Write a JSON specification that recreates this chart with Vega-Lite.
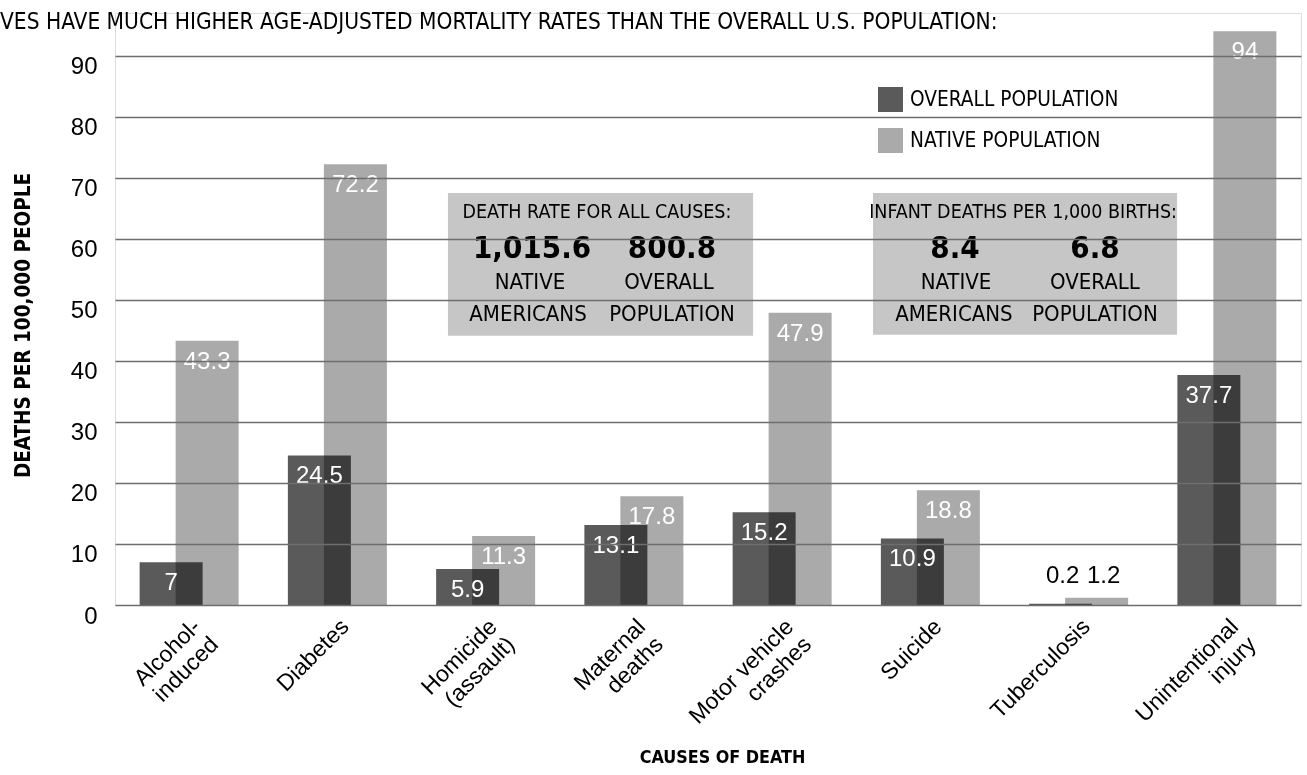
{
  "$schema": "https://vega.github.io/schema/vega-lite/v6.json",
  "width": 1186,
  "height": 592,
  "autosize": {"type": "none"},
  "padding": {"left": 115, "top": 13, "right": 6, "bottom": 170},
  "background": "white",
  "title": {
    "text": "VES HAVE MUCH HIGHER AGE-ADJUSTED MORTALITY RATES THAN THE OVERALL U.S. POPULATION:",
    "anchor": "start", "frame": "group", "orient": "top", "offset": 0,
    "dx": -115, "dy": 38, "baseline": "alphabetic",
    "font": "DejaVu Sans Condensed, Liberation Sans", "fontSize": 22.5, "fontWeight": "normal", "color": "black"
  },
  "datasets": {
    "bars": [
      {"cause": "Alcohol-\ninduced", "series": "OVERALL POPULATION", "value": 7},
      {"cause": "Alcohol-\ninduced", "series": "NATIVE POPULATION", "value": 43.3},
      {"cause": "Diabetes", "series": "OVERALL POPULATION", "value": 24.5},
      {"cause": "Diabetes", "series": "NATIVE POPULATION", "value": 72.2},
      {"cause": "Homicide\n(assault)", "series": "OVERALL POPULATION", "value": 5.9},
      {"cause": "Homicide\n(assault)", "series": "NATIVE POPULATION", "value": 11.3},
      {"cause": "Maternal\ndeaths", "series": "OVERALL POPULATION", "value": 13.1},
      {"cause": "Maternal\ndeaths", "series": "NATIVE POPULATION", "value": 17.8},
      {"cause": "Motor vehicle\ncrashes", "series": "OVERALL POPULATION", "value": 15.2},
      {"cause": "Motor vehicle\ncrashes", "series": "NATIVE POPULATION", "value": 47.9},
      {"cause": "Suicide", "series": "OVERALL POPULATION", "value": 10.9},
      {"cause": "Suicide", "series": "NATIVE POPULATION", "value": 18.8},
      {"cause": "Tuberculosis", "series": "OVERALL POPULATION", "value": 0.2},
      {"cause": "Tuberculosis", "series": "NATIVE POPULATION", "value": 1.2},
      {"cause": "Unintentional\ninjury", "series": "OVERALL POPULATION", "value": 37.7},
      {"cause": "Unintentional\ninjury", "series": "NATIVE POPULATION", "value": 94}
    ],
    "boxes": [
      {"pos": 2.246, "pos2": 4.304, "value": 67.5, "value2": 44.1},
      {"pos": 5.113, "pos2": 7.164, "value": 67.5, "value2": 44.3}
    ],
    "notes": [
      {"text": "DEATH RATE FOR ALL CAUSES:", "pos": 3.251, "value": 64.4, "role": "head"},
      {"text": "INFANT DEATHS PER 1,000 BIRTHS:", "pos": 6.125, "value": 64.4, "role": "head"},
      {"text": "1,015.6", "pos": 2.813, "value": 58.4, "role": "big"},
      {"text": "800.8", "pos": 3.757, "value": 58.4, "role": "big"},
      {"text": "8.4", "pos": 5.666, "value": 58.4, "role": "big"},
      {"text": "6.8", "pos": 6.61, "value": 58.4, "role": "big"},
      {"text": "NATIVE", "pos": 2.799, "value": 52.95, "role": "sub"},
      {"text": "AMERICANS", "pos": 2.786, "value": 47.7, "role": "sub"},
      {"text": "OVERALL", "pos": 3.737, "value": 52.95, "role": "sub"},
      {"text": "POPULATION", "pos": 3.757, "value": 47.7, "role": "sub"},
      {"text": "NATIVE", "pos": 5.673, "value": 52.95, "role": "sub"},
      {"text": "AMERICANS", "pos": 5.659, "value": 47.7, "role": "sub"},
      {"text": "OVERALL", "pos": 6.61, "value": 52.95, "role": "sub"},
      {"text": "POPULATION", "pos": 6.61, "value": 47.7, "role": "sub"}
    ]
  },
  "encoding": {
    "y": {
      "field": "value", "type": "quantitative",
      "scale": {"domain": [0, 97], "nice": false, "zero": true},
      "axis": {
        "title": "DEATHS PER 100,000 PEOPLE",
        "titleFont": "DejaVu Sans Condensed, Liberation Sans", "titleFontWeight": "bold", "titleFontSize": 20.5,
        "titleColor": "black", "titleX": -86, "titleY": 312, "titleBaseline": "alphabetic", "titleAngle": -90,
        "values": [0, 10, 20, 30, 40, 50, 60, 70, 80, 90],
        "labelFont": "Liberation Sans", "labelFontSize": 24, "labelColor": "black",
        "labelOffset": 11, "labelPadding": 18, "ticks": false, "tickSize": 0, "domain": false,
        "grid": true, "gridColor": "#6e6e6e", "gridWidth": 1.5, "gridOpacity": 1, "zindex": 1
      }
    }
  },
  "layer": [
    {
      "data": {"name": "bars"},
      "encoding": {
        "x": {
          "field": "cause", "type": "nominal", "sort": null,
          "scale": {"paddingInner": 0, "paddingOuter": 0},
          "axis": {
            "title": "CAUSES OF DEATH", "titleFont": "DejaVu Sans Condensed, Liberation Sans", "titleFontWeight": "bold",
            "titleFontSize": 17.8, "titleColor": "black", "titleX": 607, "titleY": 143,
            "labelAngle": -45, "labelFont": "Liberation Sans", "labelFontSize": 23, "labelColor": "black",
            "labelExpr": "split(datum.label, '\\n')", "labelLineHeight": 25,
            "ticks": false, "domain": false, "grid": false, "labelPadding": 10
          }
        }
      },
      "layer": [
        {
          "transform": [{"filter": "datum.series === 'NATIVE POPULATION'"}],
          "mark": {"type": "bar", "width": 63, "xOffset": 18},
          "encoding": {
            "color": {"field": "series", "type": "nominal",
              "scale": {"domain": ["OVERALL POPULATION", "NATIVE POPULATION"], "range": ["#5a5a5a", "#aaaaaa"]},
              "legend": {"title": null, "orient": "none", "legendX": 763, "legendY": 74,
                "symbolType": "square", "symbolSize": 625, "symbolStrokeWidth": 0,
                "labelFont": "DejaVu Sans Condensed, Liberation Sans", "labelFontSize": 20.7, "labelColor": "black",
                "labelLimit": 500, "rowPadding": 16, "labelOffset": 7, "padding": 0,
                "encode": {"symbols": {"update": {"fill": {"signal": "datum.label === 'NATIVE POPULATION' ? '#c6c6c6' : '#5a5a5a'"}, "opacity": {"value": 1}}}}}
            }
          }
        },
        {
          "transform": [{"filter": "datum.series === 'OVERALL POPULATION'"}],
          "mark": {"type": "bar", "width": 63, "xOffset": -18, "blend": "multiply"},
          "encoding": {
            "color": {"field": "series", "type": "nominal"}
          }
        },
        {
          "transform": [{"filter": "datum.series === 'NATIVE POPULATION' && datum.value >= 3"}],
          "mark": {"type": "text", "xOffset": 18, "baseline": "top", "dy": 9, "color": "white", "font": "Liberation Sans", "fontSize": 24},
          "encoding": {"text": {"field": "value", "type": "quantitative"}}
        },
        {
          "transform": [{"filter": "datum.series === 'OVERALL POPULATION' && datum.value >= 3"}],
          "mark": {"type": "text", "xOffset": -18, "baseline": "top", "dy": 9, "color": "white", "font": "Liberation Sans", "fontSize": 24},
          "encoding": {"text": {"field": "value", "type": "quantitative"}}
        },
        {
          "transform": [{"filter": "datum.series === 'NATIVE POPULATION' && datum.value < 3"}],
          "mark": {"type": "text", "xOffset": 25, "baseline": "bottom", "dy": -10, "color": "black", "font": "Liberation Sans", "fontSize": 24},
          "encoding": {"text": {"field": "value", "type": "quantitative"}}
        },
        {
          "transform": [{"filter": "datum.series === 'OVERALL POPULATION' && datum.value < 3"}],
          "mark": {"type": "text", "xOffset": -16, "baseline": "bottom", "dy": -16, "color": "black", "font": "Liberation Sans", "fontSize": 24},
          "encoding": {"text": {"field": "value", "type": "quantitative"}}
        }
      ]
    },
    {
      "data": {"name": "boxes"},
      "mark": {"type": "rect", "color": "#c6c6c6"},
      "encoding": {
        "x": {"field": "pos", "type": "quantitative", "scale": {"domain": [0, 8], "nice": false, "zero": false}, "axis": null},
        "x2": {"field": "pos2"},
        "y2": {"field": "value2"}
      }
    },
    {
      "data": {"name": "notes"},
      "encoding": {
        "x": {"field": "pos", "type": "quantitative", "scale": {"domain": [0, 8], "nice": false, "zero": false}, "axis": null},
        "text": {"field": "text", "type": "nominal"}
      },
      "layer": [
        {
          "transform": [{"filter": "datum.role === 'head'"}],
          "mark": {"type": "text", "baseline": "middle", "font": "DejaVu Sans Condensed, Liberation Sans", "fontSize": 19.5, "color": "black"}
        },
        {
          "transform": [{"filter": "datum.role === 'big'"}],
          "mark": {"type": "text", "baseline": "middle", "font": "DejaVu Sans Condensed, Liberation Sans", "fontSize": 31, "fontWeight": "bold", "color": "black"}
        },
        {
          "transform": [{"filter": "datum.role === 'sub'"}],
          "mark": {"type": "text", "baseline": "middle", "font": "DejaVu Sans Condensed, Liberation Sans", "fontSize": 22, "color": "black"}
        }
      ]
    }
  ],
  "resolve": {"scale": {"x": "independent"}}
}
